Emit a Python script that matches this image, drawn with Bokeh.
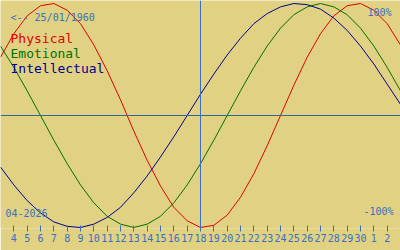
from bokeh.plotting import figure
from bokeh.models import Range1d, Span, Label, FixedTicker
from bokeh.embed import file_html
from bokeh.resources import INLINE

# Days shown (April 3 .. May 3, 2026), cursor on April 18
days = list(range(3, 34))
day_labels = [str(d) if d <= 30 else str(d - 30) for d in days]
cursor_day = 18

physical = [0.52, 0.73, 0.89, 0.98, 1.00, 0.94, 0.82, 0.63, 0.40, 0.14, -0.14,
            -0.40, -0.63, -0.82, -0.94, -1.00, -0.98, -0.89, -0.73, -0.52, -0.27,
            0.00, 0.27, 0.52, 0.73, 0.89, 0.98, 1.00, 0.94, 0.82, 0.63]
emotional = [0.62, 0.43, 0.22, 0.00, -0.22, -0.43, -0.62, -0.78, -0.90, -0.97, -1.00,
             -0.97, -0.90, -0.78, -0.62, -0.43, -0.22, 0.00, 0.22, 0.43, 0.62,
             0.78, 0.90, 0.97, 1.00, 0.97, 0.90, 0.78, 0.62, 0.43, 0.22]
intellectual = [-0.46, -0.62, -0.76, -0.87, -0.95, -0.99, -1.00, -0.97, -0.91, -0.82, -0.69,
                -0.54, -0.37, -0.19, 0.00, 0.19, 0.37, 0.54, 0.69, 0.82, 0.91,
                0.97, 1.00, 0.99, 0.95, 0.87, 0.76, 0.62, 0.46, 0.28, 0.10]

tick_days = days[1:30]
tick_labels = {d: lab for d, lab in zip(days, day_labels) if d in tick_days}

BG = "#e0d282"
BLUE = "#3a6fc0"
RED = "#e00000"
GREEN = "#007000"
NAVY = "#000090"
FONT = "DejaVu Sans Mono"

p = figure(width=400, height=250, output_backend="svg", toolbar_location=None,
           x_range=Range1d(3, 33), y_range=Range1d(-1.009, 1.027),
           min_border_left=0, min_border_right=0, min_border_top=0,
           min_border_bottom=22, y_axis_location=None)
p.background_fill_color = BG
p.border_fill_color = BG
p.outline_line_color = None
p.grid.visible = False

ax = p.xaxis[0]
ax.ticker = FixedTicker(ticks=tick_days)
ax.major_label_overrides = tick_labels
ax.axis_line_color = None
ax.minor_tick_line_color = None
ax.major_tick_line_color = BLUE
ax.major_tick_in = 3
ax.major_tick_out = 3
ax.major_label_standoff = 2
ax.major_label_text_color = BLUE
ax.major_label_text_font = FONT
ax.major_label_text_font_size = "10px"

p.add_layout(Span(location=0, dimension="width", line_color="#34659a", line_width=1))
p.add_layout(Span(location=cursor_day, dimension="height", line_color=BLUE, line_width=1))

p.line(days, physical, line_color=RED, line_width=1)
p.line(days, emotional, line_color=GREEN, line_width=1)
p.line(days, intellectual, line_color=NAVY, line_width=1)

FH = 228  # frame height in px


def lab(text, x, ybase, color, size, align="left"):
    p.add_layout(Label(x=x, y=FH - ybase, x_units="screen", y_units="screen",
                       text=text, text_color=color, text_font=FONT,
                       text_font_size=size, text_align=align,
                       text_baseline="alphabetic"))


lab("<-- 25/01/1960", 10, 17, BLUE, "10px")
lab("Physical", 10, 38, RED, "13px")
lab("Emotional", 10, 53, GREEN, "13px")
lab("Intellectual", 10, 68, NAVY, "13px")
lab("100%", 391, 12, BLUE, "10px", "right")
lab("-100%", 393, 211, BLUE, "10px", "right")
lab("04-2026", 5, 212, BLUE, "10px")

open("out.html", "w").write(file_html(p, INLINE))
